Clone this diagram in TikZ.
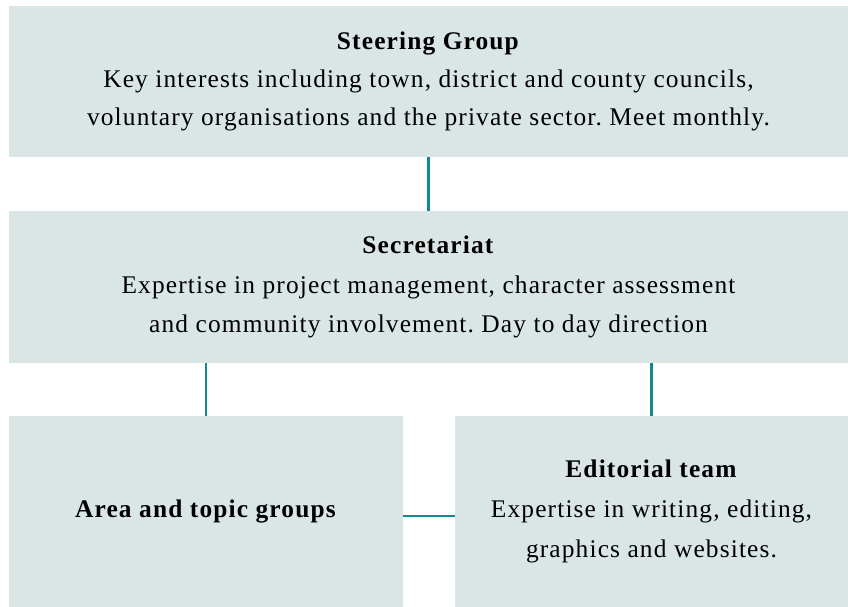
\documentclass[tikz,border=0pt]{standalone}
\usepackage{fontspec}
\setmainfont{Liberation Serif}[LetterSpace=4.5]
\usetikzlibrary{calc}
\definecolor{boxfill}{HTML}{DAE5E5}
\definecolor{linkteal}{HTML}{0E8A93}
\frenchspacing
\begin{document}
\begin{tikzpicture}[x=1bp,y=-1bp,
  panel/.style={fill=boxfill, draw=none, inner sep=0pt, align=center,
    font=\fontsize{25.5}{38}\selectfont},
  wide/.style={font=\fontsize{25.5}{40}\selectfont},
  link/.style={draw=linkteal, line width=2.5bp}]
\useasboundingbox (0,0) rectangle (848,607);
% boxes
\node[panel, minimum width=839bp, minimum height=151bp] (steer) at (428.5,81.5)
  {\textbf{Steering Group}\\Key interests including town, district and county councils,\\voluntary organisations and the private sector. Meet monthly.};
\node[panel, wide, minimum width=839bp, minimum height=152bp] (sec) at (428.5,287)
  {\textbf{Secretariat}\\Expertise in project management, character assessment\\and community involvement. Day to day direction};
\node[panel, minimum width=394bp, minimum height=191bp] (area) at (206,511.5)
  {\textbf{Area and topic groups}};
\node[panel, wide, minimum width=393bp, minimum height=191bp] (edit) at (651.5,511.5)
  {\textbf{Editorial team}\\Expertise in writing, editing,\\graphics and websites.};
% connectors
\draw[link] (steer.south) -- (sec.north);
\draw[link] (area.north) -- (area.north |- sec.south);
\draw[link] (edit.north) -- (edit.north |- sec.south);
\draw[link] ($(area.east)+(0,4.5)$) -- ($(edit.west)+(0,4.5)$);
\end{tikzpicture}
\end{document}
